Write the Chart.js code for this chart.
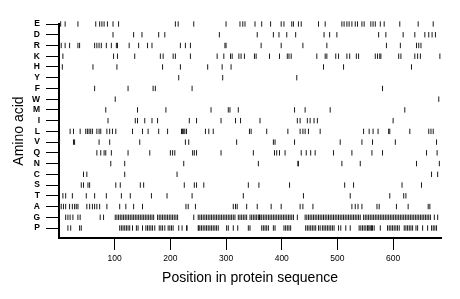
<!DOCTYPE html>
<html><head><meta charset="utf-8">
<script src="https://cdn.jsdelivr.net/npm/chart.js@4/dist/chart.umd.min.js"></script>
<style>html,body{margin:0;padding:0;background:#fff;}#wrap{width:460px;height:299px;}</style>
</head><body><div id="wrap"><canvas id="c" width="460" height="299"></canvas></div>
<script>
// Category order bottom -> top
const aminoAcids = ['P','G','A','T','S','C','N','Q','V','L','I','M','W','F','Y','H','K','R','D','E'];
const xTicks = [100,200,300,400,500,600];
const seqLength = 686;

const posE = [3,11,34,66,73,77,81,87,97,107,209,214,242,300,325,330,334,352,364,380,399,404,418,421,430,435,466,478,508,512,517,521,526,532,536,544,548,560,564,568,577,584,612,645,672];
const posD = [97,134,149,179,190,288,356,385,395,409,425,476,486,499,574,587,618,639,657,664,670,676];
const posR = [4,11,19,34,37,64,68,72,76,85,94,103,105,126,143,159,167,218,227,236,298,300,363,399,438,481,588,613,642,646,650];
const posK = [7,98,105,136,182,187,205,209,236,284,296,308,311,323,327,333,351,354,378,396,410,413,417,463,478,481,497,502,517,522,534,538,568,572,576,578,610,614,639,644,649,684];
const posH = [6,61,104,186,218,267,293,309,475,511,633];
const posY = [215,294,427];
const posF = [64,124,169,173,239,581];
const posW = [101,682];
const posM = [84,141,192,273,304,307,322,423,442,487,621];
const posI = [88,137,141,154,167,177,234,247,291,317,326,361,428,433,446,451,458,464,600];
const posL = [20,26,38,48,51,54,57,60,68,72,75,86,91,96,102,132,150,160,179,195,220,222,224,226,229,263,269,277,342,345,373,411,433,438,442,448,469,547,557,564,573,592,594,630,664,668,672];
const posV = [1,26,28,72,91,145,227,233,319,385,388,423,505,544,563,604,678];
const posQ = [68,75,81,84,94,124,163,200,204,208,240,243,247,291,349,387,391,396,406,435,444,452,460,493,526,562,581,660,679];
const posN = [93,118,224,358,429,430,508,541,642,683];
const posC = [44,50,118,212,669,680];
const posS = [40,44,52,55,102,110,146,152,225,243,247,260,340,359,414,513,529,616,651];
const posT = [7,12,24,49,64,85,112,128,166,194,239,331,439,523,594,619,623];
const posA = [1,4,8,12,19,24,28,31,34,50,55,60,64,68,73,86,109,120,134,150,228,232,245,313,317,320,337,356,381,399,433,438,456,526,532,537,544,571,575,606,627,663,666];
const posG = [12,16,20,25,34,38,74,80,
  101,104,107,110,113,116,119,122,125,128,131,134,137,140,143,146,149,152,155,158,161,164,167,170,
  177,180,183,186,189,192,195,198,201,204,207,210,213,
  242,
  250,253,256,259,262,265,268,271,274,277,280,283,286,289,292,295,298,301,304,307,310,313,316,
  322,325,328,331,334,337,343,346,349,352,355,358,360,361,364,367,370,373,376,379,382,385,388,391,394,397,400,403,406,409,412,415,418,421,
  428,
  442,445,448,451,454,457,460,463,466,469,472,475,478,481,484,487,490,493,496,499,502,505,508,511,514,517,520,523,526,529,532,535,538,541,
  547,550,553,556,559,562,565,568,571,574,577,580,583,586,589,592,595,598,601,604,607,610,613,616,619,622,625,628,631,634,637,640,643,646,649,652,655,658,661,664,667,
  674,680];
const posP = [16,21,37,40,109,112,115,118,121,124,127,132,139,142,150,156,159,162,165,168,172,180,183,186,190,196,199,202,205,215,221,229,230,
  250,251,253,256,259,262,265,268,271,274,277,280,283,286,301,304,313,321,340,343,364,367,370,373,376,385,388,404,407,410,413,416,
  443,446,449,452,455,458,461,466,469,473,476,479,482,485,488,491,494,502,506,515,523,539,542,545,548,551,554,555,557,560,561,563,566,577,
  590,593,596,599,602,605,608,611,620,623,626,629,632,635,641,644,653,662,669,672,675,678];

const positions = {E:posE,D:posD,R:posR,K:posK,H:posH,Y:posY,F:posF,W:posW,M:posM,I:posI,L:posL,V:posV,Q:posQ,N:posN,C:posC,S:posS,T:posT,A:posA,G:posG,P:posP};

const datasets = aminoAcids.map((aa, i) => ({
  label: aa,
  data: positions[aa].map(p => ({x: p, y: i})),
  pointStyle: 'line',
  rotation: 90,
  radius: 2.7,
  borderWidth: 1,
  borderColor: '#1a1a1a',
  backgroundColor: '#1a1a1a',
  showLine: false,
  clip: false
}));

const font = 'Liberation Sans, Arial, sans-serif';
new Chart(document.getElementById('c'), {
  type: 'scatter',
  data: {datasets},
  options: {
    responsive: false,
    animation: false,
    devicePixelRatio: 1,
    events: [],
    layout: {padding: {left: 0, right: 19, top: 24, bottom: 0}},
    plugins: {legend: {display: false}, tooltip: {enabled: false}},
    scales: {
      x: {
        type: 'linear', min: 0, max: seqLength,
        afterBuildTicks: s => { s.ticks = xTicks.map(v => ({value: v})); },
        afterFit: s => { s.height = 61; },
        grid: {drawOnChartArea: false, drawTicks: true, tickLength: 12, tickColor: '#000', tickWidth: 1},
        border: {display: true, color: '#000', width: 2},
        ticks: {color: '#000', font: {family: font, size: 8.5}, padding: 4, maxRotation: 0, autoSkip: false},
        title: {display: true, text: 'Position in protein sequence', color: '#000', font: {family: font, size: 14}, padding: {top: 0, bottom: 12}}
      },
      y: {
        type: 'linear', min: -0.93, max: 19,
        afterBuildTicks: s => { s.ticks = aminoAcids.map((a, i) => ({value: i})); },
        afterFit: s => { s.width = 59; },
        grid: {drawOnChartArea: false, drawTicks: true, tickLength: 13, tickColor: '#000', tickWidth: 1},
        border: {display: true, color: '#000', width: 2},
        ticks: {color: '#000', font: {family: font, size: 8.5, weight: 'bold'}, padding: 6, autoSkip: false,
          callback: v => aminoAcids[v]},
        title: {display: true, text: 'Amino acid', color: '#000', font: {family: font, size: 14}, padding: {top: 11, bottom: 0}}
      }
    }
  }
});
</script></body></html>
